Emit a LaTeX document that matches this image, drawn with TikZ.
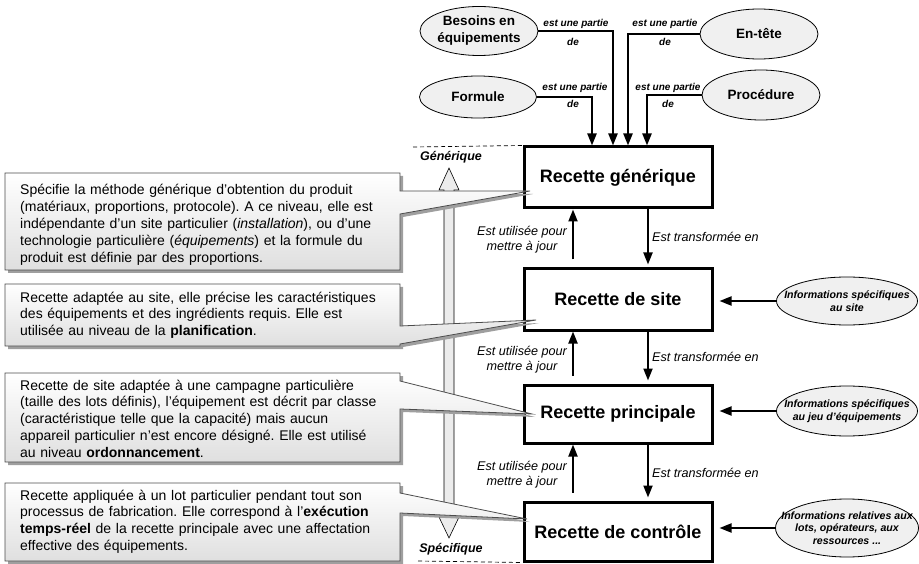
\documentclass[tikz,border=0pt]{standalone}
\usepackage{fontspec}
\setmainfont{Liberation Sans}
\usetikzlibrary{arrows.meta,shapes.geometric,shadows,calc}
\newcommand{\jl}[1]{\makebox[372pt][s]{#1}\\}
\frenchspacing
\begin{document}
\begin{tikzpicture}[x=1pt,y=-1pt,
  recette/.style={draw, line width=3pt, minimum width=188pt, inner sep=0pt, fill=white,
    font=\fontsize{18}{20}\selectfont\bfseries},
  ellbox/.style={ellipse, draw, line width=0.8pt, fill=gray!12, inner sep=0pt},
  toptext/.style={inner sep=0pt, align=center, font=\fontsize{13.5}{17}\selectfont\bfseries},
  infotext/.style={inner sep=0pt, align=center, font=\fontsize{10.6}{12.6}\selectfont\bfseries\itshape},
  partof/.style={line width=2.2pt, -{Triangle[length=12pt,width=9pt]}},
  flow/.style={line width=2pt, -{Triangle[length=12pt,width=9pt]}},
  lbl/.style={inner sep=0pt, font=\fontsize{10}{12}\selectfont\bfseries\itshape},
  flowlbl/.style={inner sep=0pt, align=center, font=\fontsize{12.6}{15}\selectfont\itshape},
  callout/.style={draw=gray!60!black, line width=0.8pt, top color=white, bottom color=gray!25,
    drop shadow={shadow xshift=3pt, shadow yshift=-3pt, fill=gray!75, opacity=1}},
  callouttext/.style={text width=372pt, inner sep=0pt, anchor=base west, align=left,
    font=\fontsize{14}{16.8}\selectfont},
  levelarrow/.style={draw, line width=0.6pt, fill=gray!15},
  leveltext/.style={inner sep=0pt, font=\fontsize{12.5}{14}\selectfont\bfseries\itshape},
  dashline/.style={line width=0.7pt, dash pattern=on 4pt off 3pt}
]
\useasboundingbox (0,0) rectangle (919,564);

% level arrow
\path[levelarrow] (449,168) -- (459,190) -- (454,190) -- (454,517) -- (459,517) -- (449,538)
  -- (439,517) -- (444,517) -- (444,190) -- (439,190) -- cycle;
\node[leveltext] (gtxt) at (451,157) {Générique};
\node[leveltext] (stxt) at (451,549) {Spécifique};

% recipe boxes
\node[recette, minimum height=61pt] (gen) at (618,177.5) {Recette générique};
\node[recette, minimum height=61pt] (site) at (618,299.5) {Recette de site};
\node[recette, minimum height=58pt] (princ) at (618,414) {Recette principale};
\node[recette, minimum height=59pt] (ctrl) at (618,531.5) {Recette de contrôle};

% dashed level lines
\coordinate (dl1) at (413,147);
\coordinate (dl2) at (418,561);
\draw[dashline] (dl1) -- (gen.north west);
\draw[dashline] (dl2) -- (ctrl.south west);

% top ellipses
\node[ellbox, minimum width=118pt, minimum height=49pt] (bes) at (479,31) {};
\node[toptext] at (bes) {Besoins en\\équipements};
\node[ellbox, minimum width=117pt, minimum height=42pt] (form) at (478,97) {};
\node[toptext] at (form) {Formule};
\node[ellbox, minimum width=118pt, minimum height=50pt] (ent) at (759,34) {};
\node[toptext] at (ent) {En-tête};
\node[ellbox, minimum width=118pt, minimum height=50pt] (proc) at (761,95) {};
\node[toptext] at (proc) {Procédure};

\draw[partof] (bes.east) -| ($(gen.north)+(-5,0)$);
\draw[partof] (form.east) -| ($(gen.north)+(-26,0)$);
\draw[partof] (ent.west) -| ($(gen.north)+(10,0)$);
\draw[partof] (proc.west) -| ($(gen.north)+(29,0)$);

\node[lbl] (l1a) at (576,24) {est une partie};
\node[lbl] (l1b) at (573,42) {de};
\node[lbl] (l2a) at (575,88) {est une partie};
\node[lbl] (l2b) at (573,104) {de};
\node[lbl] (l3a) at (665,24) {est une partie};
\node[lbl] (l3b) at (665,42) {de};
\node[lbl] (l4a) at (668,88) {est une partie};
\node[lbl] (l4b) at (668,104) {de};

% flow arrows between recipes
\draw[flow] ($(site.north)+(-45,-8)$) -- ($(gen.south)+(-45,0)$);
\draw[flow] ($(gen.south)+(30,0)$) -- ($(site.north)+(30,-3)$);
\draw[flow] ($(princ.north)+(-45,-8)$) -- ($(site.south)+(-45,0)$);
\draw[flow] ($(site.south)+(30,0)$) -- ($(princ.north)+(30,-3)$);
\draw[flow] ($(ctrl.north)+(-45,-8)$) -- ($(princ.south)+(-45,0)$);
\draw[flow] ($(princ.south)+(30,0)$) -- ($(ctrl.north)+(30,-3)$);

\node[flowlbl] (u1) at (522,240) {Est utilisée pour\\mettre à jour};
\node[flowlbl] (u2) at (522,360) {Est utilisée pour\\mettre à jour};
\node[flowlbl] (u3) at (522,475) {Est utilisée pour\\mettre à jour};
\node[flowlbl, anchor=west] (t1) at (652,237) {Est transformée en};
\node[flowlbl, anchor=west] (t2) at (652,357) {Est transformée en};
\node[flowlbl, anchor=west] (t3) at (652,473) {Est transformée en};

% right ellipses
\node[ellbox, minimum width=141pt, minimum height=48pt] (i1) at (847,301) {};
\node[infotext] at (i1) {Informations spécifiques\\au site};
\node[ellbox, minimum width=141pt, minimum height=50pt] (i2) at (847,411) {};
\node[infotext] at (i2) {Informations spécifiques\\au jeu d\symbol{39}équipements};
\node[ellbox, minimum width=143pt, minimum height=58pt] (i3) at (847,528) {};
\node[infotext] at (i3) {Informations relatives aux\\lots, opérateurs, aux\\ressources ...};

\draw[flow, shorten >=6pt] (i1.west) -- (i1.west -| site.east);
\draw[flow, shorten >=6pt] (i2.west) -- (i2.west -| princ.east);
\draw[flow, shorten >=6pt] (i3.west) -- (i3.west -| ctrl.east);

% callouts
\path[callout] (5,173) -- (400,173) -- (400,191) -- (530,191) -- (400,214) -- (400,270) -- (5,270) -- cycle;
\node[callouttext] (c1) at (20,195) {\jl{Spécifie la méthode générique d’obtention du produit}%
\jl{(matériaux, proportions, protocole). A ce niveau, elle est}%
\jl{indépendante d’un site particulier (\textit{installation}), ou d’une}%
\jl{technologie particulière (\textit{équipements}) et la formule du}%
produit est définie par des proportions.};

\path[callout] (5,284) -- (400,284) -- (400,326) -- (536,320) -- (400,344) -- (400,346) -- (5,346) -- cycle;
\node[callouttext] (c2) at (20,302) {\jl{Recette adaptée au site, elle précise les caractéristiques}%
\jl{des équipements et des ingrédients requis. Elle est}%
utilisée au niveau de la \textbf{planification}.};

\path[callout] (5,373) -- (400,373) -- (400,381) -- (532,414) -- (400,409) -- (400,462) -- (5,462) -- cycle;
\node[callouttext] (c3) at (20,390) {\jl{Recette de site adaptée à une campagne particulière}%
\jl{(taille des lots définis), l’équipement est décrit par classe}%
\jl{(caractéristique telle que la capacité) mais aucun}%
\jl{appareil particulier n’est encore désigné. Elle est utilisé}%
au niveau \textbf{ordonnancement}.};

\path[callout] (5,483) -- (400,483) -- (400,493) -- (527,519) -- (400,513) -- (400,561) -- (5,561) -- cycle;
\node[callouttext] (c4) at (20,500) {\jl{Recette appliquée à un lot particulier pendant tout son}%
\jl{processus de fabrication. Elle correspond à l’\textbf{exécution}}%
\jl{\textbf{temps-réel} de la recette principale avec une affectation}%
effective des équipements.};
\end{tikzpicture}
\end{document}
